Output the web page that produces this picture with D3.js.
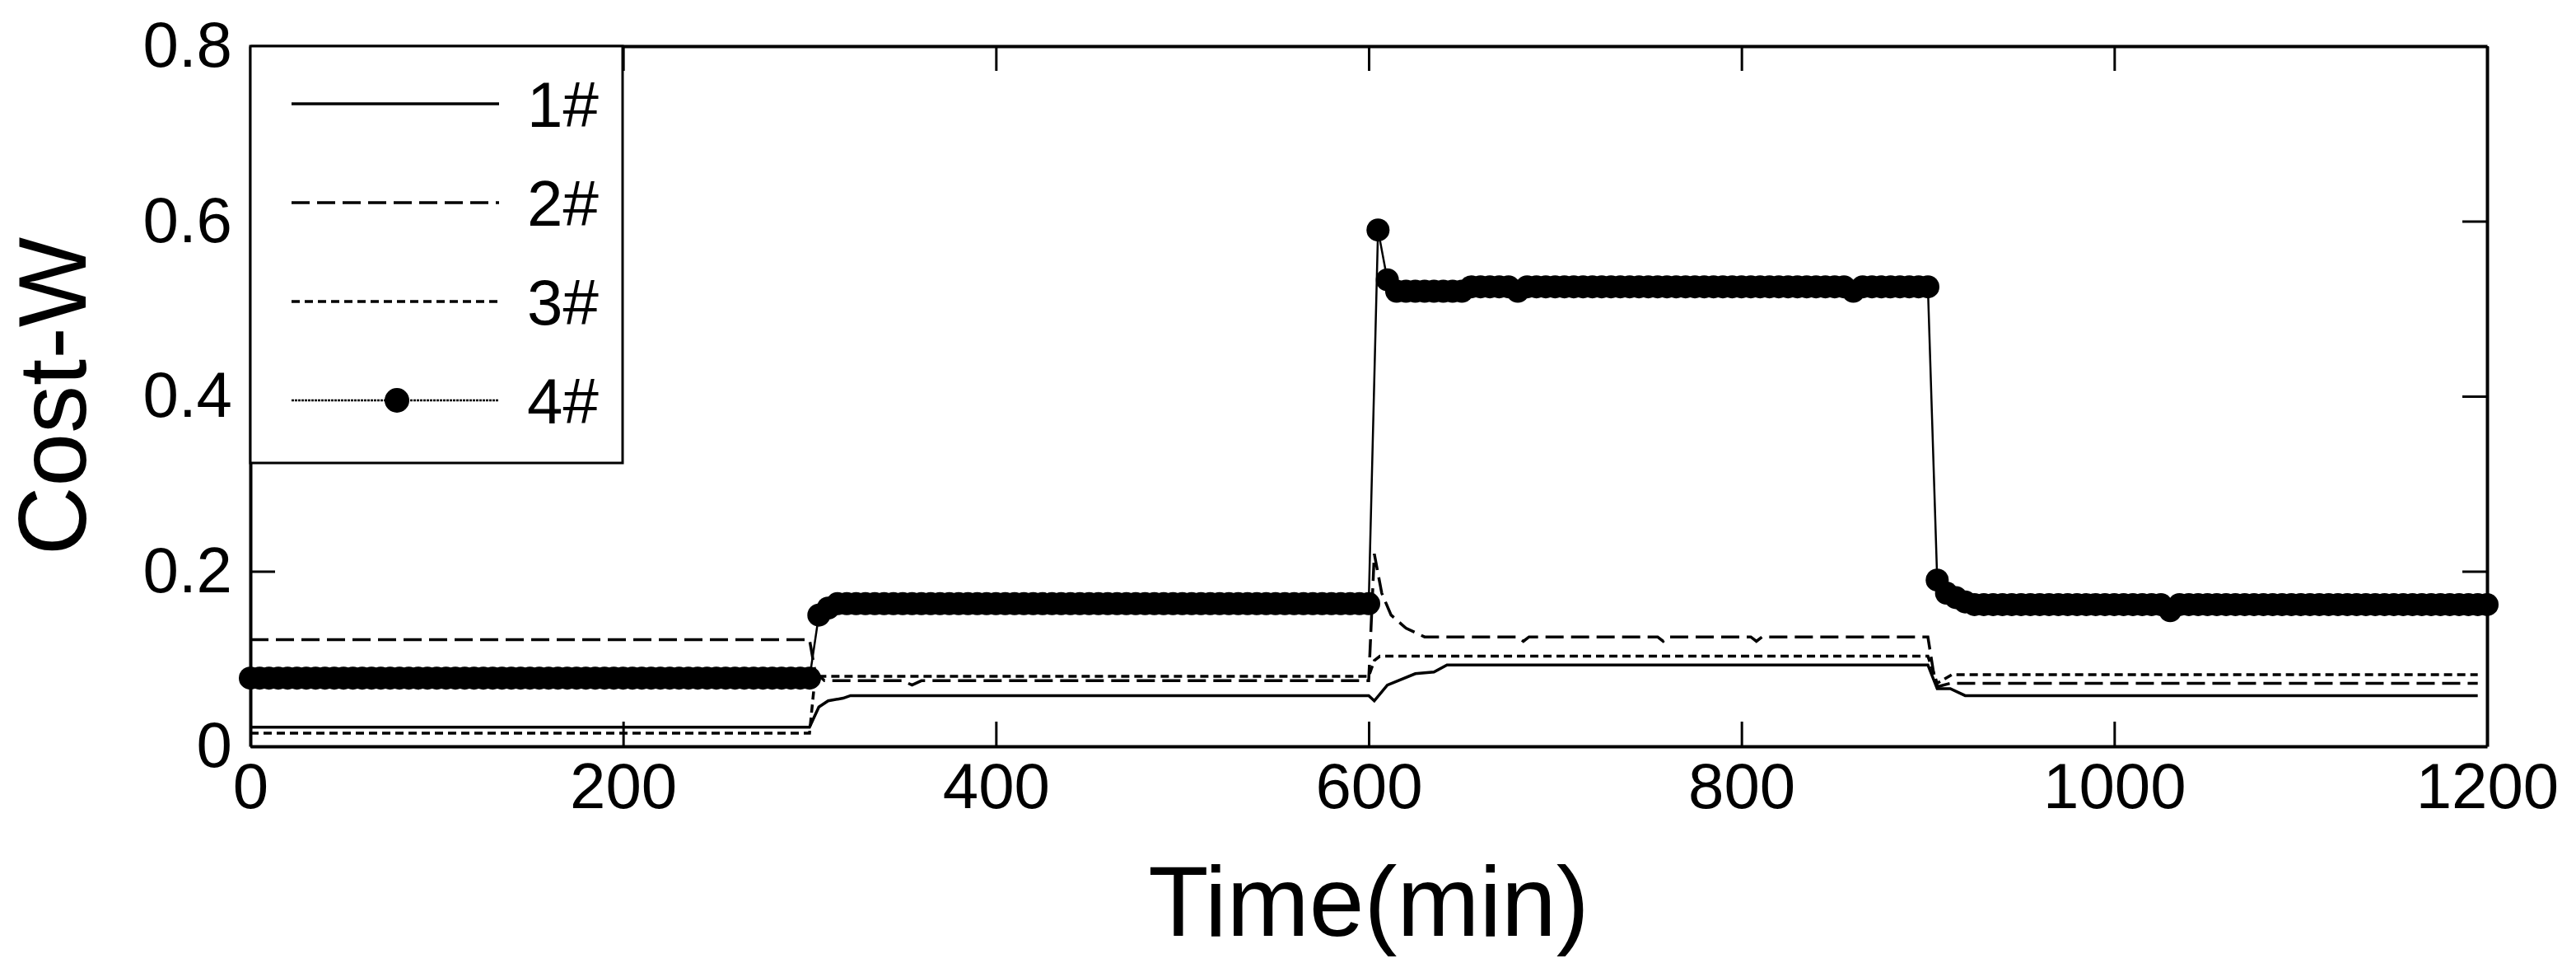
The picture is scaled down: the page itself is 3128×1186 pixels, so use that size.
<!DOCTYPE html>
<html><head><meta charset="utf-8">
<script src="https://cdn.jsdelivr.net/npm/d3@7"></script>
<style>body{margin:0;background:#fff}svg{display:block}text{font-family:"Liberation Sans",Arial,sans-serif;fill:#000}</style>
</head><body>
<script>
const xTicks=[0,200,400,600,800,1000,1200];
const yTicks=[0,0.2,0.4,0.6,0.8];
const seriesNames=["1#","2#","3#","4#"];
// series 1-3: [time, value] vertices
const s1=[[0,0.022],[300,0.022],[305,0.045],[310,0.052],[318,0.055],[322,0.058],[600,0.058],[603,0.052],[610,0.070],[625,0.083],[635,0.085],[642,0.093],[900,0.093],[905,0.066],[912,0.066],[920,0.058],[1195,0.058]];
const s2=[[0,0.122],[300,0.122],[303,0.085],[308,0.075],[350,0.075],[355,0.070],[360,0.075],[600,0.075],[603,0.220],[607,0.175],[612,0.150],[620,0.135],[630,0.125],[680,0.125],[683,0.120],[686,0.125],[755,0.125],[758,0.120],[761,0.125],[805,0.125],[808,0.120],[811,0.125],[900,0.125],[903,0.085],[905,0.068],[912,0.072],[1195,0.072]];
const s3=[[0,0.015],[300,0.015],[303,0.080],[600,0.080],[603,0.098],[606,0.103],[900,0.103],[905,0.072],[913,0.082],[1195,0.082]];
// series 4: sampled every 5 min from 0 to 1200
const s4t=d3.range(0,1201,5);
const s4v=[
0.078,0.078,0.078,0.078,0.078,0.078,0.078,0.078,0.078,0.078,0.078,0.078,0.078,0.078,0.078,0.078,0.078,0.078,0.078,0.078,
0.078,0.078,0.078,0.078,0.078,0.078,0.078,0.078,0.078,0.078,0.078,0.078,0.078,0.078,0.078,0.078,0.078,0.078,0.078,0.078,
0.078,0.078,0.078,0.078,0.078,0.078,0.078,0.078,0.078,0.078,0.078,0.078,0.078,0.078,0.078,0.078,0.078,0.078,0.078,0.078,
0.078,0.150,0.158,0.163,0.163,0.163,0.163,0.163,0.163,0.163,0.163,0.163,0.163,0.163,0.163,0.163,0.163,0.163,0.163,0.163,
0.163,0.163,0.163,0.163,0.163,0.163,0.163,0.163,0.163,0.163,0.163,0.163,0.163,0.163,0.163,0.163,0.163,0.163,0.163,0.163,
0.163,0.163,0.163,0.163,0.163,0.163,0.163,0.163,0.163,0.163,0.163,0.163,0.163,0.163,0.163,0.163,0.163,0.163,0.163,0.163,
0.163,0.590,0.533,0.520,0.520,0.520,0.520,0.520,0.520,0.520,0.520,0.525,0.525,0.525,0.525,0.525,0.520,0.525,0.525,0.525,
0.525,0.525,0.525,0.525,0.525,0.525,0.525,0.525,0.525,0.525,0.525,0.525,0.525,0.525,0.525,0.525,0.525,0.525,0.525,0.525,
0.525,0.525,0.525,0.525,0.525,0.525,0.525,0.525,0.525,0.525,0.525,0.525,0.520,0.525,0.525,0.525,0.525,0.525,0.525,0.525,
0.525,0.190,0.175,0.170,0.165,0.162,0.162,0.162,0.162,0.162,0.162,0.162,0.162,0.162,0.162,0.162,0.162,0.162,0.162,0.162,
0.162,0.162,0.162,0.162,0.162,0.162,0.155,0.162,0.162,0.162,0.162,0.162,0.162,0.162,0.162,0.162,0.162,0.162,0.162,0.162,
0.162,0.162,0.162,0.162,0.162,0.162,0.162,0.162,0.162,0.162,0.162,0.162,0.162,0.162,0.162,0.162,0.162,0.162,0.162,0.162,0.162];
const s4=s4t.map((t,i)=>[t,s4v[i]]);

const W=3128,H=1186,L=304,R=3020,T=56,B=906;
const svg=d3.select("body").append("svg").attr("width",W).attr("height",H);
const x=d3.scaleLinear().domain([0,1200]).range([L,R]);
const y=d3.scaleLinear().domain([0,0.8]).range([B,T]);
const fmtY=d3.format(".1f");
const fs=78,tl=30;
const ax=(g,axis)=>{g.call(axis);g.select(".domain").attr("stroke","#000").attr("stroke-width",4);g.selectAll(".tick line").attr("stroke","#000").attr("stroke-width",3);g.selectAll("text").style("font-size",fs+"px").attr("fill","#000");};
svg.append("g").attr("transform",`translate(0,${B})`).call(g=>ax(g,d3.axisBottom(x).tickValues(xTicks).tickSize(-tl).tickPadding(20).tickFormat(d3.format("d")).tickSizeOuter(0)));
svg.append("g").attr("transform",`translate(0,${T})`).call(g=>ax(g,d3.axisTop(x).tickValues(xTicks).tickSize(-tl).tickFormat("").tickSizeOuter(0)));
svg.append("g").attr("transform",`translate(${L},0)`).call(g=>ax(g,d3.axisLeft(y).tickValues(yTicks).tickSize(-tl).tickPadding(22).tickFormat(d=>d===0?"0":fmtY(d)).tickSizeOuter(0)));
svg.append("g").attr("transform",`translate(${R},0)`).call(g=>ax(g,d3.axisRight(y).tickValues(yTicks).tickSize(-tl).tickFormat("").tickSizeOuter(0)));

const line=d3.line().x(d=>x(d[0])).y(d=>y(d[1]));
const styles=[{w:3.5,dash:null},{w:3.5,dash:"22,9"},{w:3.5,dash:"10,6"},{w:2,dash:"3,1"}];
[s1,s2,s3].forEach((s,i)=>svg.append("path").datum(s).attr("d",line).attr("fill","none").attr("stroke","#000").attr("stroke-width",styles[i].w).attr("stroke-dasharray",styles[i].dash));
svg.append("path").datum(s4).attr("d",line).attr("fill","none").attr("stroke","#000").attr("stroke-width",2.5);
svg.append("g").selectAll("circle").data(s4).join("circle").attr("cx",d=>x(d[0])).attr("cy",d=>y(d[1])).attr("r",14).attr("fill","#000");

const lg=svg.append("g");
lg.append("rect").attr("x",L).attr("y",T).attr("width",452).attr("height",506).attr("fill","#fff").attr("stroke","#000").attr("stroke-width",3);
const rowsY=[126,246,366,486];
seriesNames.forEach((n,i)=>{
  lg.append("line").attr("x1",354).attr("x2",606).attr("y1",rowsY[i]).attr("y2",rowsY[i]).attr("stroke","#000").attr("stroke-width",i===3?2.5:3.5).attr("stroke-dasharray",styles[i].dash);
  if(i===3) lg.append("circle").attr("cx",482).attr("cy",rowsY[i]).attr("r",15).attr("fill","#000");
  lg.append("text").attr("x",640).attr("y",rowsY[i]+28).style("font-size",fs+"px").text(n);
});
svg.append("text").attr("x",(L+R)/2).attr("y",1136).attr("text-anchor","middle").style("font-size","120px").text("Time(min)");
svg.append("text").attr("transform",`translate(104,${(T+B)/2}) rotate(-90)`).attr("text-anchor","middle").style("font-size","116px").text("Cost-W");
</script>
</body></html>
